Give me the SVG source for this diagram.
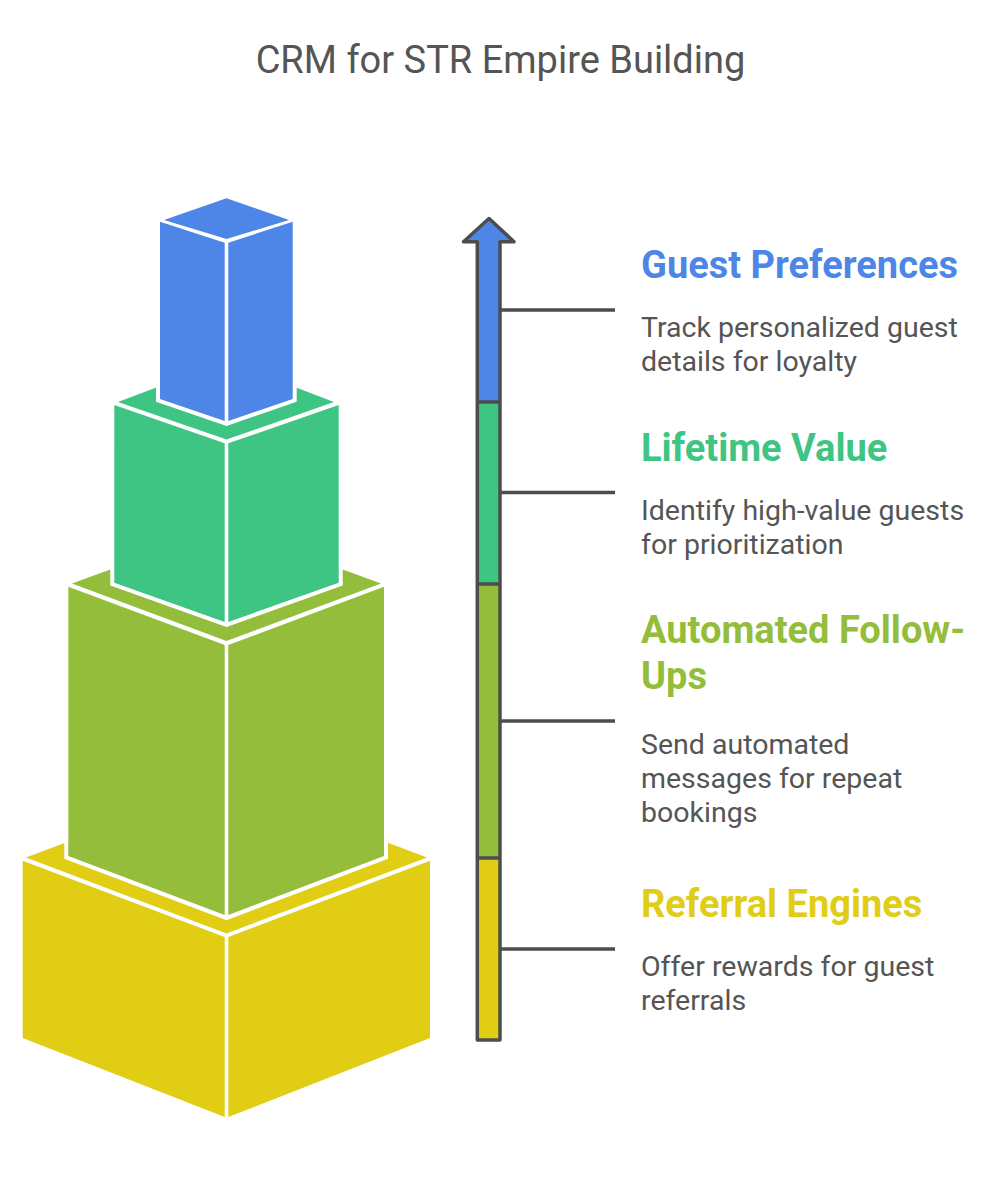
<svg xmlns="http://www.w3.org/2000/svg" width="1000" height="1200" viewBox="0 0 1000 1200">
<style>
text{font-family:Roboto,"Liberation Sans",sans-serif}
.title{font-size:38px;fill:#555}
.h{font-size:38px;font-weight:700}
.d{font-size:28.5px;fill:#555}
.halo{fill:#fff;stroke:#fff;stroke-width:8;stroke-linejoin:miter}
.y{fill:#E0CD14}.o{fill:#93BD3A}.g{fill:#3EC483}.b{fill:#4E86E8}
.ln{fill:none;stroke:#4D4D4D;stroke-width:3.5;stroke-linecap:butt;stroke-linejoin:round}
</style>
<rect width="1000" height="1200" fill="#fff"/>
<text class="title" x="500.500" y="73" text-anchor="middle">CRM for STR Empire Building</text>
<g id="block-yellow">
<polygon class="y" points="26,857.500 226.500,782 427,857.500 226.500,933.500"/>
<polygon class="y" points="22.700,860.700 224.700,937 224.700,1117 22.700,1038"/>
<polygon class="y" points="228.300,937 430,860.700 430,1038 228.300,1117"/>
</g>
<g id="block-olive">
<polygon class="halo" points="68.300,586.700 226.500,527 384,586.700 384,856 226.500,916 68.300,856"/>
<polygon class="o" points="72,583.500 226.500,527 381,583.500 226.500,641"/>
<polygon class="o" points="68.300,586.700 224.700,645 224.700,915 68.300,856"/>
<polygon class="o" points="228.300,645 384,586.700 384,856 228.300,915"/>
</g>
<g id="block-green">
<polygon class="halo" points="114.300,405 226.500,361 338.700,405 338.700,582.700 226.500,622.700 114.300,582.700"/>
<polygon class="g" points="118,402 226.500,361 334,402 226.500,439.500"/>
<polygon class="g" points="114.300,405 224.700,443.300 224.700,622 114.300,582.700"/>
<polygon class="g" points="228.300,443.300 338.700,405 338.700,582.700 228.300,622"/>
</g>
<g id="block-blue">
<polygon class="halo" points="160,221.700 226.500,198.300 292.700,221.700 292.700,399 226.500,421.700 160,399"/>
<polygon class="b" points="164,220 226.500,198.300 289,220 226.500,239"/>
<polygon class="b" points="160,221.700 224.700,242.700 224.700,421 160,399"/>
<polygon class="b" points="228.300,242.700 292.700,221.700 292.700,399 228.300,421"/>
</g>
<g id="arrow">
<path class="b" d="M477.300,402V241.700H463.500L489,218.500L514,241.700H500V402Z"/>
<rect class="g" x="477.300" y="402" width="22.700" height="182"/>
<rect class="o" x="477.300" y="584" width="22.700" height="274"/>
<rect class="y" x="477.300" y="858" width="22.700" height="182"/>
<path class="ln" d="M477.300,1040V241.700H463.500L489,218.500L514,241.700H500V1040Z"/>
<path class="ln" d="M477.300,402H500M477.300,584H500M477.300,858H500"/>
</g>
<g id="connectors">
<path class="ln" d="M500,310H615M500,492.500H615M500,721H615M500,949H615"/>
</g>
<g id="label-guest-preferences">
<text class="h" x="641" y="277.500" style="fill:#4E86E8">Guest Preferences</text>
<text class="d" x="641" y="337">Track personalized guest</text>
<text class="d" x="641" y="371">details for loyalty</text>
</g>
<g id="label-lifetime-value">
<text class="h" x="641" y="460.500" style="fill:#3EC483">Lifetime Value</text>
<text class="d" x="641" y="520">Identify high-value guests</text>
<text class="d" x="641" y="553.500">for prioritization</text>
</g>
<g id="label-automated-follow-ups">
<text class="h" x="641" y="642.500" style="fill:#93BD3A">Automated Follow-</text>
<text class="h" x="641" y="688.500" style="fill:#93BD3A">Ups</text>
<text class="d" x="641" y="753.500">Send automated</text>
<text class="d" x="641" y="787.500">messages for repeat</text>
<text class="d" x="641" y="822">bookings</text>
</g>
<g id="label-referral-engines">
<text class="h" x="641" y="916.500" style="fill:#E0CD14">Referral Engines</text>
<text class="d" x="641" y="976">Offer rewards for guest</text>
<text class="d" x="641" y="1010">referrals</text>
</g>
</svg>
